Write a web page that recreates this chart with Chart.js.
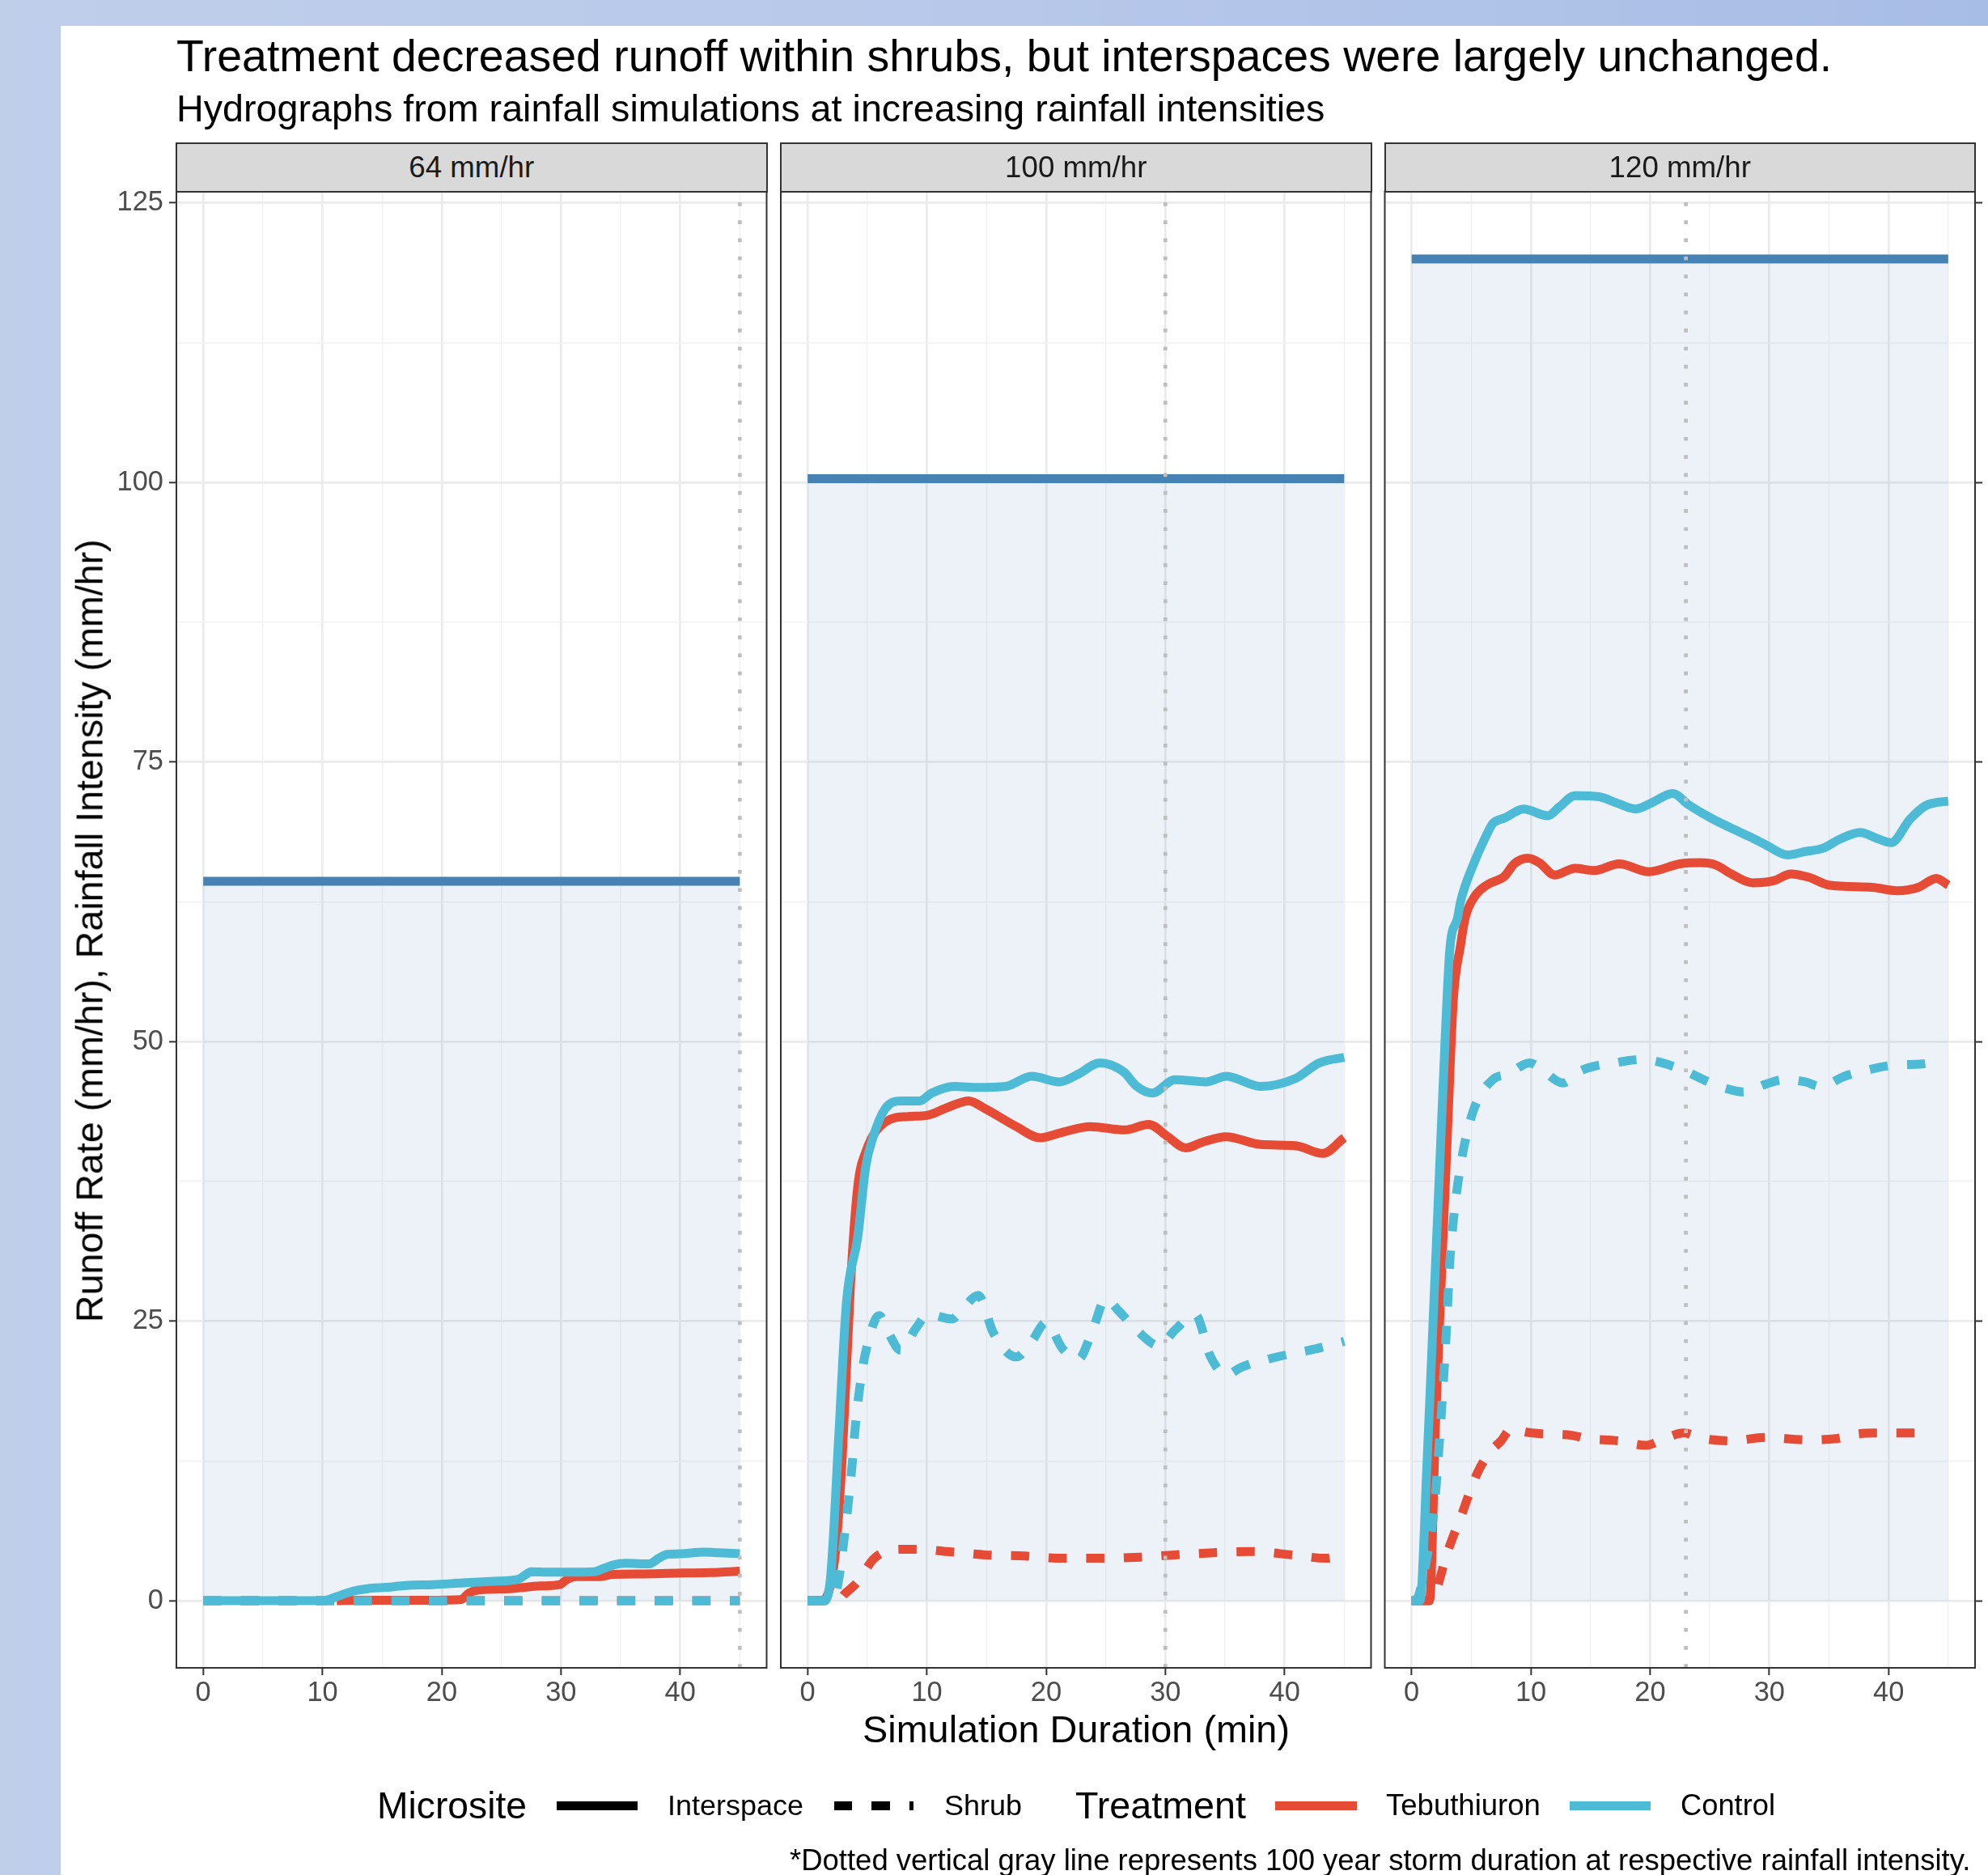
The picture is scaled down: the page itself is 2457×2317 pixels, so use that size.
<!DOCTYPE html>
<html><head><meta charset="utf-8">
<script src="https://cdn.jsdelivr.net/npm/chart.js@4.4.1/dist/chart.umd.min.js"></script>
<style>
html,body{margin:0;padding:0;}
body{width:2457px;height:2317px;overflow:hidden;position:relative;background:linear-gradient(90deg,#BFCFEA 0%,#B7C8EA 50%,#A8BDE6 100%);}
#sheet{position:absolute;left:75px;top:32px;right:0;bottom:0;background:#fff;}
canvas{position:absolute;left:0;top:0;}
.strip{position:absolute;box-sizing:border-box;background:#D9D9D9;border:2px solid #333;}
.key{position:absolute;height:11px;}
.txt{position:absolute;white-space:nowrap;}
</style></head><body>
<div id="sheet"></div>
<canvas id="c0" width="2457" height="2317"></canvas>
<canvas id="c1" width="2457" height="2317"></canvas>
<canvas id="c2" width="2457" height="2317"></canvas>
<script>
// ---------------- data ----------------
const panelLabels = ['64 mm/hr', '100 mm/hr', '120 mm/hr'];
const rainIntensity = [64.35, 100.35, 120];
const rainTimes = [0, 45];
const stormDuration = [45, 30, 23];

const xMajorTicks = [0, 10, 20, 30, 40];
const xMinorTicks = [5, 15, 25, 35, 45];
const yMajorTicks = [0, 25, 50, 75, 100, 125];
const yMinorTicks = [12.5, 37.5, 62.5, 87.5, 112.5];

// 64 mm/hr
const t64CtrlInter = [0, 10, 11.2, 12.5, 13.8, 15.4, 17, 19.3, 21.8, 24.4, 26.4, 27, 27.5, 29, 30.9, 32.8, 33.6, 34.4, 35.4, 37.4, 38.2, 38.9, 40, 42, 43.2, 45];
const v64CtrlInter = [0, 0, 0.36, 0.84, 1.08, 1.2, 1.37, 1.44, 1.6, 1.75, 1.92, 2.3, 2.6, 2.55, 2.55, 2.6, 2.9, 3.2, 3.35, 3.3, 3.8, 4.15, 4.2, 4.35, 4.3, 4.2];
const t64TebInter = [11.2, 13, 16, 19, 21.6, 22.3, 23, 25.7, 28.3, 29.9, 30.5, 31.3, 33.2, 34.4, 37, 40.3, 42.6, 45];
const v64TebInter = [0, 0.05, 0.05, 0.05, 0.1, 0.7, 0.95, 1.08, 1.32, 1.44, 1.9, 2.16, 2.16, 2.36, 2.4, 2.48, 2.52, 2.64];
const t64CtrlShrub = [0, 45];
const v64CtrlShrub = [0, 0];
const t64TebShrub = [0, 45];
const v64TebShrub = [0, 0];

// 100 mm/hr
const t100CtrlInter = [0, 1.46, 1.95, 2.6, 3.25, 4.2, 4.87, 5.5, 6.5, 7.8, 9.4, 10.4, 12.3, 14.3, 16.6, 18.8, 21.1, 22.7, 24.5, 26.5, 27.6, 28.9, 30.8, 33.4, 35.1, 38, 40.9, 42.9, 45];
const v100CtrlInter = [0, 0, 2.4, 14.5, 26.6, 32.5, 38.8, 41.5, 44, 44.7, 44.7, 45.4, 46, 45.9, 46, 46.9, 46.4, 47.1, 48.1, 47.3, 46, 45.4, 46.6, 46.4, 46.9, 46, 46.7, 48.1, 48.6];
const t100TebInter = [0, 1.2, 2.3, 2.9, 3.6, 4.2, 4.9, 6.5, 8.4, 10, 11.7, 13.5, 14.9, 17.5, 19.5, 21.4, 23.7, 26.6, 28.6, 30.2, 31.7, 33.1, 35.1, 38, 40.9, 43.2, 45];
const v100TebInter = [0, 0, 4, 12.8, 28.4, 37, 40.2, 42.8, 43.3, 43.4, 44.1, 44.7, 44, 42.4, 41.4, 41.9, 42.4, 42.1, 42.6, 41.5, 40.5, 41, 41.5, 40.8, 40.7, 40, 41.4];
const t100CtrlShrub = [0, 1.8, 2.4, 3.2, 3.7, 4.0, 4.4, 4.9, 6.0, 6.8, 7.8, 9.1, 10.1, 12.1, 13.0, 14.3, 15.6, 17.5, 18.8, 20.0, 21.4, 22.7, 23.9, 25.0, 26.1, 27.6, 29.5, 30.8, 32.5, 33.8, 35.1, 36.4, 38.6, 40.6, 42.5, 45];
const v100CtrlShrub = [0, 0, 0.8, 6.8, 11.8, 15.6, 19.3, 22.4, 25.5, 23.9, 22.4, 24.4, 25.6, 25.2, 26.1, 27.3, 23.9, 21.8, 23.2, 24.9, 22.5, 21.6, 24.2, 27.0, 25.9, 24.2, 22.8, 24.2, 25.6, 21.8, 20.2, 20.9, 21.6, 22.1, 22.5, 23.2];
const t100TebShrub = [0, 2.5, 3.1, 4.2, 5.5, 6.5, 7.8, 9.4, 11.7, 14.9, 18.2, 21.4, 24.7, 27.9, 30.8, 34.1, 37.3, 40.6, 43.5, 45];
const v100TebShrub = [0, 0, 0.6, 1.7, 3.7, 4.4, 4.6, 4.6, 4.4, 4.1, 4.0, 3.8, 3.8, 3.9, 4.1, 4.3, 4.4, 4.1, 3.8, 4.2];

// 120 mm/hr
const t120CtrlInter = [0, 0.7, 1.3, 1.8, 2.3, 2.8, 3.2, 3.86, 4.1, 5.2, 6.2, 6.8, 7.8, 9.4, 11.4, 12.4, 13.7, 15.7, 17.3, 18.8, 20.2, 21.9, 23.2, 25.1, 26.4, 28.4, 29.7, 31.5, 33, 34.5, 35.9, 37.6, 39.2, 40.2, 41.8, 43.1, 44.1, 45];
const v120CtrlInter = [0, 0, 12.5, 25, 37.5, 50, 58.2, 61.1, 62.5, 65.9, 68.3, 69.5, 70, 70.8, 70.2, 71, 72, 71.9, 71.3, 70.8, 71.4, 72.2, 71.2, 70, 69.3, 68.3, 67.6, 66.7, 67, 67.3, 68.1, 68.7, 68.1, 67.8, 69.9, 71.1, 71.4, 71.5];
const t120TebInter = [0, 1.5, 2.0, 2.7, 3.0, 3.5, 4.1, 4.5, 5.3, 6.3, 7.8, 8.6, 9.75, 10.7, 12, 13.7, 15.3, 17.4, 19.9, 22.5, 24.2, 25.5, 26.8, 28.6, 30.4, 31.8, 33.3, 35, 38.6, 40.7, 42.5, 44, 45];
const v120TebInter = [0, 0, 15.8, 34.2, 41.75, 53.8, 58.6, 61.1, 63, 64, 64.8, 65.9, 66.4, 66, 64.9, 65.5, 65.3, 65.9, 65.2, 65.9, 66, 65.8, 65, 64.2, 64.4, 65, 64.7, 64, 63.8, 63.5, 63.8, 64.6, 64];
const t120CtrlShrub = [0, 0.3, 1.24, 1.9, 2.5, 2.9, 3.2, 3.5, 3.9, 4.45, 5.3, 6.8, 8.1, 9.9, 10.7, 12.7, 14, 15.3, 16.5, 19.2, 22.2, 25.1, 26.4, 27.8, 29.7, 31.2, 33, 34.3, 36.3, 37.6, 40.5, 42.8, 44.6];
const v120CtrlShrub = [0, 0, 3.6, 8.4, 16.9, 23.9, 30.3, 34, 37.5, 40.9, 44.2, 46.6, 47.1, 48.1, 47.7, 46.3, 47.3, 47.8, 48, 48.4, 47.7, 46.3, 45.8, 45.5, 46.2, 46.6, 46.4, 46, 46.9, 47.3, 47.9, 48, 48.4];
const t120TebShrub = [0, 1.5, 1.9, 2.4, 2.9, 3.5, 4.2, 4.8, 5.5, 6.5, 7.5, 8.3, 10.1, 11.4, 13.4, 14.7, 17.3, 19.6, 21.2, 22.8, 24.5, 26.8, 29.7, 33, 35.6, 37.3, 39.2, 41.5, 43.1];
const v120TebShrub = [0, 0, 0.3, 2.1, 4, 5.8, 7.7, 9.5, 11.4, 13.2, 14.3, 15.3, 15, 14.9, 14.8, 14.5, 14.3, 13.9, 14.5, 15, 14.5, 14.3, 14.6, 14.4, 14.5, 14.9, 15, 15, 15];

// ---------------- layout & style ----------------
const FONT = '"Liberation Sans", Arial, Helvetica, sans-serif';
Chart.defaults.font.family = FONT;
const W = 2457, H = 2317;
const panelLeft = [218, 965, 1711.5];
const panelRight = [947.5, 1694.5, 2441];
const panelTop = 237, panelBottom = 2061;
const yAxisW = 84, xAxisH = 60, rightAxisW = 16;
const xMin = -2.25, xMax = 47.25, yMin = -6, yMax = 126;
const RED = '#E64B35', CYAN = '#4DBBD5', STEEL = '#4682B4';
const LW = 11, DASH = [22.5, 24];

function zip(t, v) { return t.map((x, i) => ({ x: x, y: v[i] })); }
function series(t, v, color, dashed, order) {
  return { data: zip(t, v), borderColor: color, borderWidth: LW, borderDash: dashed ? DASH : [],
    borderCapStyle: 'butt', borderJoinStyle: 'round', pointRadius: 0, fill: false,
    cubicInterpolationMode: 'monotone', order: order };
}
function rainSet(i) {
  return { data: zip(rainTimes, rainTimes.map(() => rainIntensity[i])), borderColor: STEEL, borderWidth: LW,
    backgroundColor: 'rgba(70,130,180,0.10)', fill: 'origin', pointRadius: 0, tension: 0,
    borderCapStyle: 'butt', order: 9 };
}
function stormSet(i) {
  return { data: [{ x: stormDuration[i], y: yMin }, { x: stormDuration[i], y: yMax }], borderColor: '#BEBEBE',
    borderWidth: 4.7, borderDash: [4.7, 17.6], borderCapStyle: 'butt', pointRadius: 0, fill: false, tension: 0, order: 0 };
}
const panelSeries = [
  [t64CtrlInter, v64CtrlInter, t64TebInter, v64TebInter, t64CtrlShrub, v64CtrlShrub, t64TebShrub, v64TebShrub],
  [t100CtrlInter, v100CtrlInter, t100TebInter, v100TebInter, t100CtrlShrub, v100CtrlShrub, t100TebShrub, v100TebShrub],
  [t120CtrlInter, v120CtrlInter, t120TebInter, v120TebInter, t120CtrlShrub, v120CtrlShrub, t120TebShrub, v120TebShrub]
];

function isIn(c, arr) { return c && c.tick && arr.includes(c.tick.value); }
const panelBorder = {
  id: 'panelBorder',
  afterDatasetsDraw(chart) {
    const a = chart.chartArea, ctx = chart.ctx;
    ctx.save(); ctx.strokeStyle = '#333333'; ctx.lineWidth = 2;
    ctx.strokeRect(a.left, a.top, a.right - a.left, a.bottom - a.top);
    ctx.restore();
  }
};

function makeChart(idx) {
  const showY = idx === 0, showRight = idx === 2;
  const s = panelSeries[idx];
  const datasets = [
    stormSet(idx),
    series(s[4], s[5], CYAN, true, 1),
    series(s[0], s[1], CYAN, false, 2),
    series(s[6], s[7], RED, true, 3),
    series(s[2], s[3], RED, false, 4),
    rainSet(idx)
  ];
  const tickFont = { size: 34.4 };
  const scales = {
    x: {
      type: 'linear', min: xMin, max: xMax,
      afterBuildTicks: sc => { sc.ticks = xMajorTicks.concat(xMinorTicks).sort((a, b) => a - b).map(v => ({ value: v })); },
      afterFit: sc => { sc.height = xAxisH; },
      ticks: { autoSkip: false, maxRotation: 0, minRotation: 0, padding: 2, color: '#4D4D4D', font: tickFont,
        callback: v => xMajorTicks.includes(v) ? String(v) : '' },
      grid: { color: c => isIn(c, xMajorTicks) ? '#EBEBEB' : '#F2F2F2', lineWidth: c => isIn(c, xMajorTicks) ? 2.7 : 1.4,
        drawTicks: true, tickLength: 9, tickWidth: 2, tickColor: c => isIn(c, xMajorTicks) ? '#333333' : 'rgba(0,0,0,0)' },
      border: { display: false }
    },
    y: {
      type: 'linear', min: yMin, max: yMax,
      afterBuildTicks: sc => { sc.ticks = yMajorTicks.concat(yMinorTicks).sort((a, b) => a - b).map(v => ({ value: v })); },
      afterFit: sc => { sc.width = showY ? yAxisW : 0; },
      ticks: { display: showY, autoSkip: false, padding: 7, color: '#4D4D4D', font: tickFont,
        callback: v => yMajorTicks.includes(v) ? String(v) : '' },
      grid: { color: c => isIn(c, yMajorTicks) ? '#EBEBEB' : '#F2F2F2', lineWidth: c => isIn(c, yMajorTicks) ? 2.7 : 1.4,
        drawTicks: showY, tickLength: 9, tickWidth: 2, tickColor: c => isIn(c, yMajorTicks) ? '#333333' : 'rgba(0,0,0,0)' },
      border: { display: false }
    }
  };
  if (showRight) {
    scales.y2 = {
      type: 'linear', position: 'right', min: yMin, max: yMax,
      afterBuildTicks: sc => { sc.ticks = yMajorTicks.map(v => ({ value: v })); },
      afterFit: sc => { sc.width = rightAxisW; },
      ticks: { autoSkip: false, padding: 7, color: '#4D4D4D', font: tickFont, callback: v => String(v) },
      grid: { drawOnChartArea: false, drawTicks: true, tickLength: 9, tickWidth: 2, tickColor: '#333333' },
      border: { display: false }
    };
  }
  new Chart(document.getElementById('c' + idx), {
    type: 'line',
    data: { datasets: datasets },
    options: {
      responsive: false, animation: false, events: [],
      layout: { padding: {
        left: panelLeft[idx] - (showY ? yAxisW : 0),
        right: W - panelRight[idx] - (showRight ? rightAxisW : 0),
        top: panelTop,
        bottom: H - panelBottom - xAxisH } },
      plugins: { legend: { display: false }, tooltip: { enabled: false } },
      scales: scales
    },
    plugins: [panelBorder]
  });
}
[0, 1, 2].forEach(makeChart);

// ---------------- text & legend ----------------
const mctx = document.createElement('canvas').getContext('2d');
function fitSize(text, width) {
  mctx.font = '100px ' + FONT;
  return 100 * width / mctx.measureText(text).width;
}
function addText(text, o) {
  const s = o.size || fitSize(text, o.width);
  mctx.font = s + 'px ' + FONT;
  const w = mctx.measureText(text).width;
  const d = document.createElement('div');
  d.className = 'txt';
  d.textContent = text;
  d.style.fontFamily = FONT;
  d.style.fontSize = s + 'px';
  d.style.lineHeight = s + 'px';
  d.style.height = s + 'px';
  d.style.color = o.color || '#000';
  let left = o.left !== undefined ? o.left : o.cx - w / 2;
  let top = o.capY !== undefined ? o.capY - 0.4885 * s : o.baseY - 0.8465 * s;
  if (o.rotate) {
    left = o.cx - w / 2; top = o.cy - s / 2;
    d.style.transform = 'rotate(-90deg)';
    d.style.transformOrigin = '50% 50%';
    d.style.width = w + 'px';
  }
  d.style.left = left + 'px';
  d.style.top = top + 'px';
  document.body.appendChild(d);
  return s;
}

addText('Treatment decreased runoff within shrubs, but interspaces were largely unchanged.', { left: 218, baseY: 88.5, width: 2047 });
addText('Hydrographs from rainfall simulations at increasing rainfall intensities', { left: 218, baseY: 151, width: 1420 });

const stripSize = fitSize(panelLabels[0], 155);
panelLabels.forEach((lab, i) => {
  const st = document.createElement('div');
  st.className = 'strip';
  st.style.left = (panelLeft[i] - 1) + 'px';
  st.style.top = '176px';
  st.style.width = (panelRight[i] - panelLeft[i] + 2) + 'px';
  st.style.height = (panelTop - 176 + 1) + 'px';
  document.body.appendChild(st);
  addText(lab, { cx: (panelLeft[i] + panelRight[i]) / 2, capY: 207, size: stripSize, color: '#1A1A1A' });
});

addText('Runoff Rate (mm/hr), Rainfall Intensity (mm/hr)', { rotate: true, cx: 111, cy: 1150, width: 968 });
addText('Simulation Duration (min)', { cx: 1330, capY: 2137, width: 528 });

const legY = 2231;
addText('Microsite', { left: 466, capY: legY, width: 185 });
addText('Interspace', { left: 825, capY: legY, width: 168 });
addText('Shrub', { left: 1167, capY: legY, width: 96 });
addText('Treatment', { left: 1329, capY: legY, width: 211 });
addText('Tebuthiuron', { left: 1713, capY: legY, width: 191 });
addText('Control', { left: 2077, capY: legY, width: 117 });
function addKey(left, width, bg) {
  const k = document.createElement('div');
  k.className = 'key';
  k.style.left = left + 'px'; k.style.width = width + 'px';
  k.style.top = (legY - 5.5) + 'px';
  k.style.background = bg;
  document.body.appendChild(k);
}
addKey(688, 100, '#000');
addKey(1031, 98, 'repeating-linear-gradient(90deg,#000 0px,#000 22.5px,transparent 22.5px,transparent 46.5px)');
addKey(1576, 101, RED);
addKey(1940, 100, CYAN);

addText('*Dotted vertical gray line represents 100 year storm duration at respective rainfall intensity.', { left: 976, baseY: 2312, width: 1460 });
</script></body></html>
